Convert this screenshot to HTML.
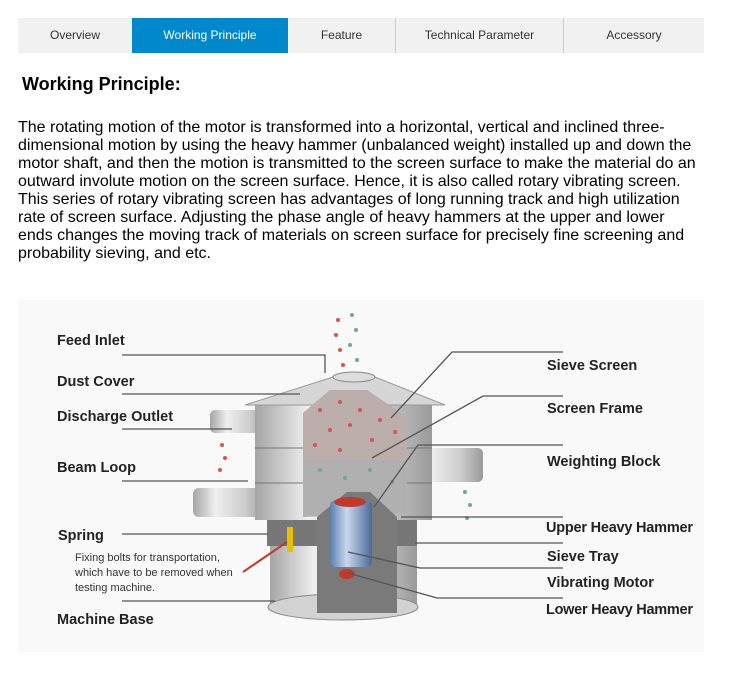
<!DOCTYPE html>
<html><head><meta charset="utf-8"><style>
body{margin:0;width:756px;height:674px;background:#fff;font-family:"Liberation Sans",Arial,sans-serif;position:relative;overflow:hidden}
.tabs{position:absolute;left:18px;top:18px;width:686px;height:35px;background:#f1f1f1;display:flex}
.tabs div{height:35px;line-height:35px;text-align:center;font-size:12px;color:#333;box-sizing:border-box}
.tabs .a{background:#0088cc;color:#fff}
.sep{border-left:1px solid #ccc}
h2{position:absolute;left:22px;top:74px;margin:0;font-size:18px;font-weight:bold;color:#000}
p{position:absolute;left:18px;top:119px;margin:0;width:730px;white-space:nowrap;font-size:16px;line-height:18px;color:#000}
svg{position:absolute;left:0;top:0}
.l{font-family:"Liberation Sans",sans-serif;font-weight:bold;font-size:14.5px;fill:#222}
.s{font-family:"Liberation Sans",sans-serif;font-size:11px;fill:#333}
</style></head><body>
<div class="tabs">
<div style="width:114px">Overview</div>
<div class="a" style="width:156px">Working Principle</div>
<div style="width:107px">Feature</div>
<div class="sep" style="width:168px">Technical Parameter</div>
<div class="sep" style="width:141px">Accessory</div>
</div>
<h2>Working Principle:</h2>
<p>The rotating motion of the motor is transformed into a horizontal, vertical and inclined three-<br>dimensional motion by using the heavy hammer (unbalanced weight) installed up and down the<br>motor shaft, and then the motion is transmitted to the screen surface to make the material do an<br>outward involute motion on the screen surface. Hence, it is also called rotary vibrating screen.<br>This series of rotary vibrating screen has advantages of long running track and high utilization<br>rate of screen surface. Adjusting the phase angle of heavy hammers at the upper and lower<br>ends changes the moving track of materials on screen surface for precisely fine screening and<br>probability sieving, and etc.</p>
<svg width="756" height="674">
<defs>
<linearGradient id="m" x1="0" x2="1"><stop offset="0" stop-color="#a5a5a5"/><stop offset=".3" stop-color="#efefef"/><stop offset=".7" stop-color="#cdcdcd"/><stop offset="1" stop-color="#9a9a9a"/></linearGradient>
<linearGradient id="b" x1="0" x2="1"><stop offset="0" stop-color="#5a7fae"/><stop offset=".4" stop-color="#c8d8ee"/><stop offset="1" stop-color="#4a6a98"/></linearGradient>
</defs>
<rect x="18" y="300" width="686" height="352" fill="#f9f9f9"/>
<rect x="270" y="540" width="147" height="68" fill="url(#m)"/>
<ellipse cx="343" cy="607" rx="75" ry="13" fill="#d2d2d2" stroke="#888"/>
<rect x="267" y="518" width="150" height="28" fill="#777"/>
<rect x="193" y="488" width="74" height="29" rx="6" fill="url(#m)"/>
<rect x="210" y="410" width="57" height="23" rx="5" fill="url(#m)"/>
<rect x="407" y="448" width="76" height="34" rx="5" fill="url(#m)"/>
<rect x="255" y="405" width="177" height="115" fill="url(#m)"/>
<line x1="255" y1="448" x2="432" y2="448" stroke="#777"/><line x1="255" y1="483" x2="432" y2="483" stroke="#777"/>
<polygon points="245,405 333,377 375,377 445,405" fill="#d6d6d6" stroke="#999"/>
<ellipse cx="354" cy="377" rx="21" ry="5" fill="#ddd" stroke="#888"/>
<polygon points="303,413 330,390 367,390 407,417 407,513 303,517" fill="#b0b0b0"/>
<polygon points="303,413 330,390 367,390 407,417 407,460 303,460" fill="#bcaeaa"/>
<polygon points="317,517 347,492 370,492 397,517 397,613 317,613" fill="#7a7a7a"/>
<rect x="330" y="500" width="42" height="67" rx="6" fill="url(#b)"/>
<ellipse cx="350" cy="502" rx="16" ry="5" fill="#c0392b"/>
<ellipse cx="347" cy="574" rx="8" ry="5" fill="#c0392b"/>
<rect x="287" y="527" width="6" height="25" fill="#e8c000"/>
<g fill="#d9534f">
<circle cx="320" cy="410" r="2"/><circle cx="340" cy="402" r="2"/><circle cx="360" cy="410" r="2"/><circle cx="380" cy="420" r="2"/><circle cx="330" cy="430" r="2"/><circle cx="350" cy="425" r="2"/><circle cx="372" cy="440" r="2"/><circle cx="395" cy="432" r="2"/><circle cx="315" cy="445" r="2"/><circle cx="340" cy="450" r="2"/>
<circle cx="338" cy="320" r="2"/><circle cx="336" cy="335" r="2"/><circle cx="340" cy="350" r="2"/><circle cx="343" cy="365" r="2"/>
<circle cx="222" cy="445" r="2"/><circle cx="225" cy="458" r="2"/><circle cx="220" cy="470" r="2"/>
</g>
<g fill="#6aa898">
<circle cx="352" cy="315" r="2"/><circle cx="356" cy="330" r="2"/><circle cx="350" cy="345" r="2"/><circle cx="357" cy="360" r="2"/>
<circle cx="320" cy="470" r="2"/><circle cx="345" cy="478" r="2"/><circle cx="370" cy="470" r="2"/><circle cx="392" cy="482" r="2"/>
<circle cx="465" cy="492" r="2"/><circle cx="470" cy="505" r="2"/><circle cx="467" cy="518" r="2"/>
</g>
<g stroke="#555" stroke-width="1.3" fill="none">
<polyline points="122,355 325,355 325,373"/>
<line x1="122" y1="394" x2="300" y2="394"/>
<line x1="122" y1="429" x2="232" y2="429"/>
<line x1="122" y1="481" x2="248" y2="481"/>
<line x1="122" y1="534" x2="268" y2="534"/>
<line x1="122" y1="601" x2="275" y2="601"/>
<polyline points="563,352 452,352 391,418"/>
<polyline points="563,396 483,396 372,458"/>
<polyline points="563,445 418,445 374,507"/>
<line x1="401" y1="517" x2="563" y2="517"/>
<line x1="415" y1="543" x2="563" y2="543"/>
<polyline points="348,552 420,568 563,568"/>
<polyline points="348,573 437,598 563,598"/>
</g>
<line x1="243" y1="572" x2="287" y2="542" stroke="#c0392b" stroke-width="2"/>
<text class="l" x="57" y="345">Feed Inlet</text>
<text class="l" x="57" y="386">Dust Cover</text>
<text class="l" x="57" y="421">Discharge Outlet</text>
<text class="l" x="57" y="472">Beam Loop</text>
<text class="l" x="58" y="540">Spring</text>
<text class="s" x="75" y="561">Fixing bolts for transportation,</text>
<text class="s" x="75" y="576">which have to be removed when</text>
<text class="s" x="75" y="591">testing machine.</text>
<text class="l" x="57" y="624">Machine Base</text>
<text class="l" x="547" y="370">Sieve Screen</text>
<text class="l" x="547" y="413">Screen Frame</text>
<text class="l" x="547" y="466">Weighting Block</text>
<text class="l" x="546" y="532" textLength="147">Upper Heavy Hammer</text>
<text class="l" x="547" y="561">Sieve Tray</text>
<text class="l" x="547" y="587">Vibrating Motor</text>
<text class="l" x="546" y="614" textLength="147">Lower Heavy Hammer</text>
</svg>
</body></html>
